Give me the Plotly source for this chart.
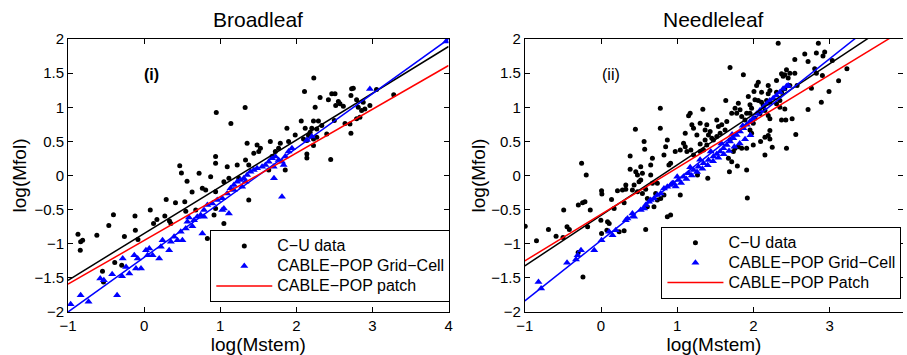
import plotly.graph_objects as go

# ---------------- Broadleaf data ----------------
bl_cu_x = [-0.869, -0.834, -0.808, -0.839, -0.621, -0.464, -0.403, -0.120, -0.115, -0.259,
           -0.081, 0.081, 0.168, 0.124, 0.290, 0.272, 0.333, 0.412, 0.468, 0.490,
           0.564, 0.534, 0.630, -0.547, -0.534, -0.386, -0.294, 0.547, 0.678, 0.351,
           0.948, 1.140, 1.327, 1.876, 1.985, 1.898, 1.789, 1.658, 1.767, 1.724,
           1.680, 1.484, 1.506, 1.441, 1.528, 1.353, 1.332, 1.375, 1.223, 1.092,
           0.939, 0.939, 0.874, 0.722, 0.765, 0.809, 0.939, 1.375, 1.637, 1.854,
           1.244, 1.114, 1.048, 0.939, 0.918, 0.831, 1.048,
           2.229, 2.107, 2.312, 2.247, 2.064, 2.116, 2.203, 2.225, 2.290, 2.268,
           2.160, 2.094, 2.138, 2.225, 2.268, 2.399, 2.225, 2.138, 2.138, 2.451,
           2.421, 2.465, 2.508, 2.552, 2.517, 2.573, 2.617, 2.499, 2.639, 2.704,
           2.717, 2.726, 2.748, 2.717, 2.791, 2.813, 2.857, 2.878, 2.900, 2.791,
           2.835, 2.966, 3.053, 3.279, 2.334, 2.181]
bl_cu_y = [-0.859, -0.972, -0.947, -1.094, -0.874, -0.732, -0.575, -0.595, -0.801, -0.894,
           -0.938, -0.507, -0.644, -0.703, -0.350, -0.595, -0.668, -0.399, 0.144, 0.036,
           -0.086, -0.385, -0.243, -1.403, -1.559, -1.275, -1.315, -0.522, -0.507, -0.703,
           0.923, 0.761, 0.996, 0.693, 0.595, 0.497, 0.472, 0.497, 0.399, 0.350,
           0.277, 0.448, 0.350, 0.326, 0.399, 0.472, 0.228, 0.154, 0.154, 0.130,
           0.179, 0.277, -0.017, 0.032, -0.188, -0.213, -0.237, -0.360, 0.081, 0.081,
           -0.042, -0.042, -0.702, -0.482, -0.580, -0.923, -0.090,
           1.427, 1.231, 1.143, 1.001, 0.800, 0.693, 0.693, 0.800, 0.800, 0.683,
           0.585, 0.536, 0.512, 0.536, 0.561, 0.609, 0.438, 0.316, 0.257, 0.233,
           1.109, 1.197, 1.197, 1.084, 1.026, 1.050, 1.016, 0.805, 0.761, 0.756,
           0.619, 1.270, 1.280, 1.172, 1.109, 1.001, 0.952, 1.074, 0.976, 0.830,
           0.854, 1.026, 1.260, 1.182, 0.732, 0.634]

bl_gc_x = [-0.965, -0.834, -0.730, -0.355, -0.577, -0.529, -0.420, -0.290, -0.281, -0.237,
           -0.194, -0.129, -0.085, -0.107, -0.041, 0.024, 0.068, 0.046, 0.111, 0.198,
           0.220, 0.242, 0.329, 0.351, 0.394, 0.438, 0.481, 0.503, 0.547, 0.569,
           0.590, 0.634, 0.656, 0.699,
           0.743, 0.787, 0.831, 0.896, 0.961, 1.027, 1.092, 1.136, 1.179, 1.223,
           1.266, 1.310, 1.353, 1.397, 1.441, 1.484, 1.550, 1.593, 1.637, 1.680,
           1.724, 1.767, 1.811, 1.702, 1.833, 1.854, 1.898, 1.942, 1.811, 0.787,
           1.048, 1.114, 0.765, 1.027, 1.179, 1.288, 1.332, 1.706, 2.138, 2.203,
           2.966, 3.967]
bl_gc_y = [-1.887, -1.755, -1.848, -1.755, -1.510, -1.535, -1.447, -1.476, -1.217, -1.339,
           -1.437, -1.168, -1.217, -1.363, -1.363, -1.094, -1.070, -1.168, -1.168, -1.217,
           -1.045, -0.947, -1.094, -0.972, -0.899, -0.947, -0.825, -0.947, -0.776, -0.678,
           -0.615, -0.742, -0.654, -0.605,
           -0.580, -0.507, -0.433, -0.409, -0.360, -0.335, -0.262, -0.188, -0.139, -0.090,
           -0.066, -0.042, 0.007, 0.056, 0.081, 0.105, 0.130, 0.154, 0.203, 0.252,
           0.277, 0.228, 0.203, 0.130, 0.154, 0.277, 0.350, 0.399, -0.311, -0.604,
           -0.482, -0.555, -0.849, -0.507, -0.213, -0.164, -0.090, -0.040, 0.521, 0.570,
           1.266, 1.965]

# fitted lines (end points)
bl_fit_x = [-1, 4]
bl_cu_fit_y = [-1.535, 1.890]
bl_gc_fit_y = [-2.000, 2.000]
bl_patch_fit_y = [-1.593, 1.612]

# ---------------- Needleleaf data ----------------
nl_cu_x = [-0.995, -0.847, -0.690, -0.590, -0.499, -0.490, -0.446, -0.416, -0.298, -0.242,
           -0.211, -0.255, -0.194, -0.141, -0.176, -0.237, 0.007, 0.011, -0.002, 0.085,
           0.107, 0.077, 0.007, 0.138, 0.172, 0.216, 0.281, 0.325, 0.325, 0.303,
           0.238, 0.303, 0.382, 0.382, 0.456, 0.478, 0.521, 0.543, 0.521, 0.499,
           0.434, 0.565, 0.573, 0.652, 0.674, 0.652, 0.674, 0.586, 0.608, 0.608,
           0.543, 0.739, 0.717, 0.695, 0.739, 0.826, 0.848, 0.870, 0.891, 0.913,
           0.826, 0.783, 0.913, 0.870, 0.586, 0.478, 0.412, -0.300, 0.778, 0.451,
           0.778,
           1.637, 1.336, 1.170, 1.149, 1.301, 1.192, 1.214, 1.388, 1.366, 1.432,
           1.519, 1.541, 1.584, 1.650, 1.628, 1.563, 1.519, 1.475, 1.410, 1.454,
           1.366, 1.301, 1.258, 1.105, 1.083, 1.040, 0.974, 1.179, 1.214, 1.127,
           1.105, 1.301, 1.345, 1.388, 1.693, 1.759, 1.802, 1.737, 1.672, 1.715,
           1.846, 1.911, 1.998, 1.955, 1.976, 1.998, 2.020, 1.802, 1.759, 1.715,
           1.780, 1.824, 1.846, 1.889, 1.911, 1.955, 1.933, 1.955, 1.976, 2.007,
           2.020, 1.911, 1.789, 1.685, 1.401, 1.266, 1.040, 1.920, 1.693, 1.868,
           2.325, 2.852, 2.674, 2.826, 2.935, 2.913, 2.717, 2.543, 3.035, 3.227,
           2.804, 2.826, 2.434, 2.369, 2.412, 2.478, 2.543, 2.456, 2.390, 2.905,
           3.118, 2.761, 2.992, 2.891, 2.717, 2.573, 2.478, 2.303, 2.194, 2.216,
           2.107, 2.064, 2.042, 2.194, 2.173, 2.064, 2.107, 2.129, 2.216, 2.303,
           2.412, 2.347, 2.369, 2.425, 2.508, 2.216, 2.194, 2.151, 2.085, 2.556,
           2.216, 2.194, 2.151, 2.216, 2.094, 2.247, 2.434, 2.151, 2.347, 2.369,
           2.412, 2.303]
nl_cu_y = [-0.742, -0.957, -0.791, -0.889, -0.908, -0.507, -0.752, -0.791, -0.433, -0.399,
           -0.385, 0.178, 0.007, -0.507, -0.752, -1.486, -0.223, -0.272, -0.654, -0.678,
           -0.703, -0.801, -0.850, -0.350, -0.482, -0.223, -0.213, -0.203, -0.140, -0.399,
           -0.825, -0.810, 0.286, 0.090, 0.056, 0.007, 0.129, 0.032, -0.066, -0.091,
           -0.140, 0.497, 0.384, 0.154, 0.252, 0.007, -0.115, -0.203, -0.336, -0.458,
           -0.262, -0.115, -0.262, -0.458, -0.360, 0.301, 0.423, 0.521, 0.154, 0.178,
           -0.287, -0.336, -0.580, -0.605, -0.791, -0.238, -0.213, -1.130, 0.987, 0.678,
           0.693,
           1.099, 0.972, 0.913, 0.874, 0.766, 0.742, 0.693, 0.742, 0.668, 0.644,
           0.815, 0.717, 0.742, 0.791, 0.668, 0.619, 0.570, 0.521, 0.595, 0.546,
           0.521, 0.463, 0.595, 0.619, 0.472, 0.374, 0.350, 0.374, 0.301, 0.350,
           0.423, 0.350, 0.374, 0.448, 0.521, 0.399, 0.423, 0.350, 0.252, 0.203,
           0.399, 0.399, 0.448, 0.668, 0.619, 0.766, 0.840, 1.060, 0.986, 0.913,
           0.913, 0.962, 0.864, 0.815, 0.913, 0.913, 1.158, 1.035, 0.986, 1.231,
           1.109, 0.081, 0.140, 0.056, -0.041, 0.007, -0.286, -0.330, 1.583, 1.476,
           1.936, 1.936, 1.779, 1.794, 1.809, 1.750, 1.672, 1.701, 1.686, 1.564,
           1.564, 1.500, 1.549, 1.490, 1.476, 1.500, 1.500, 1.427, 1.456, 1.466,
           1.388, 1.280, 1.231, 1.074, 0.967, 1.319, 1.319, 1.393, 1.319, 1.246,
           1.221, 1.368, 1.319, 1.197, 1.099, 1.099, 1.074, 1.026, 1.074, 1.050,
           0.976, 1.001, 0.815, 0.815, 0.830, 0.830, 0.879, 0.952, 0.903, 0.600,
           0.658, 0.585, 0.560, 0.536, 0.497, 0.414, 0.399, 0.301, 1.099, 1.221,
           1.270, 1.221]

nl_gc_x = [-0.821, -0.786, -0.446, -0.329, -0.307, -0.263, -0.089, 0.007, 0.107, 0.151,
           0.194, 0.325, 0.347, 0.434, 0.412, 0.521, 0.565, 0.586, 0.630, 0.652,
           0.695, 0.739, 0.783, 0.826, 0.870, 0.913, 0.935,
           0.953, 1.018, 1.083, 1.149, 1.214, 1.279, 1.345, 1.410, 1.475, 1.519,
           1.563, 1.606, 1.650, 1.693, 1.737, 1.780, 1.824, 1.868, 1.911, 1.955,
           1.998,
           0.980, 1.050, 1.120, 1.190, 1.260, 1.330, 1.400, 1.470, 1.540, 1.610,
           1.680, 1.750, 1.820, 1.890, 1.960,
           1.000, 1.170, 1.300, 1.440, 1.580, 1.720, 1.860,
           2.042, 2.085, 2.129, 2.173, 2.216, 2.260, 2.303, 2.347, 2.390, 2.434,
           2.456]
nl_gc_y = [-1.559, -1.657, -1.280, -1.231, -1.168, -1.094, -1.094, -0.947, -0.825, -0.874,
           -0.801, -0.654, -0.629, -0.605, -0.556, -0.507, -0.482, -0.433, -0.385, -0.360,
           -0.336, -0.287, -0.262, -0.189, -0.164, -0.140, -0.115,
           -0.115, -0.066, -0.017, 0.032, 0.081, 0.130, 0.179, 0.228, 0.277, 0.316,
           0.350, 0.399, 0.448, 0.497, 0.546, 0.595, 0.644, 0.693, 0.742, 0.791,
           0.840,
           -0.160, -0.110, -0.050, 0.000, 0.050, 0.100, 0.150, 0.210, 0.260, 0.310,
           0.360, 0.420, 0.470, 0.530, 0.590,
           -0.020, 0.120, 0.230, 0.350, 0.470, 0.600, 0.730,
           0.903, 0.952, 1.001, 1.050, 1.099, 1.133, 1.172, 1.221, 1.270, 1.309,
           1.319]

nl_fit_x = [-1, 4]
nl_cu_fit_y = [-1.324, 2.376]
nl_gc_fit_y = [-1.838, 2.597]
nl_patch_fit_y = [-1.251, 2.155]

titles = ["Broadleaf", "Needleleaf"]
panel_labels = ["(i)", "(ii)"]
legend_names = ["C\u2212U data", "CABLE\u2212POP Grid\u2212Cell"]
patch_names = ["CABLE\u2212POP patch", "CABLE\u2212POP Patch"]

FONT = "Liberation Sans, Arial, Helvetica, sans-serif"


def big(s):
    # legend text drawn at 16px while the legend rows keep a tighter spacing
    return '<span style="font-size:16px">' + s + '</span>'


fig = go.Figure()

panels = [
    (bl_cu_x, bl_cu_y, bl_gc_x, bl_gc_y, bl_fit_x, bl_cu_fit_y, bl_gc_fit_y, bl_patch_fit_y, "x", "y", "legend", patch_names[0]),
    (nl_cu_x, nl_cu_y, nl_gc_x, nl_gc_y, nl_fit_x, nl_cu_fit_y, nl_gc_fit_y, nl_patch_fit_y, "x2", "y2", "legend2", patch_names[1]),
]
for cx, cy, gx, gy, fx, fcy, fgy, fpy, xa, ya, lg, pname in panels:
    fig.add_trace(go.Scatter(x=cx, y=cy, mode="markers", name=big(legend_names[0]),
                             marker=dict(color="black", size=5, symbol="circle"),
                             xaxis=xa, yaxis=ya, legend=lg))
    fig.add_trace(go.Scatter(x=gx, y=gy, mode="markers", name=big(legend_names[1]),
                             marker=dict(color="blue", size=7, symbol="triangle-up"),
                             xaxis=xa, yaxis=ya, legend=lg))
    fig.add_trace(go.Scatter(x=fx, y=fcy, mode="lines", showlegend=False,
                             line=dict(color="black", width=1.5), xaxis=xa, yaxis=ya))
    fig.add_trace(go.Scatter(x=fx, y=fgy, mode="lines", showlegend=False,
                             line=dict(color="blue", width=1.5), xaxis=xa, yaxis=ya))
    fig.add_trace(go.Scatter(x=fx, y=fpy, mode="lines", name=big(pname),
                             line=dict(color="red", width=1.5), xaxis=xa, yaxis=ya, legend=lg))

axis_common = dict(showgrid=False, zeroline=False, showline=True, linecolor="black",
                   linewidth=1, ticks="inside", ticklen=5, tickwidth=1, tickcolor="black",
                   tickfont=dict(size=15, color="black", family=FONT),
                   title_font=dict(size=19, color="black", family=FONT))

legend_common = dict(xanchor="left", yanchor="top", bordercolor="black", borderwidth=1,
                     bgcolor="white", font=dict(size=13, color="black", family=FONT),
                     itemwidth=56, tracegroupgap=0)

fig.update_layout(
    width=907, height=355,
    margin=dict(l=68, r=0, t=39, b=43),
    paper_bgcolor="white", plot_bgcolor="white",
    font=dict(family=FONT, color="black"),
    xaxis=dict(domain=[0, 0.4558], range=[-1, 4], dtick=1, mirror="ticks",
               title=dict(text="log(Mstem)", standoff=6), anchor="y", **axis_common),
    yaxis=dict(range=[-2, 2], dtick=0.5, mirror="ticks",
               title=dict(text="log(Mfol)", standoff=2), anchor="x", **axis_common),
    xaxis2=dict(domain=[0.5471, 1], range=[-1, 3.963], dtick=1, mirror="ticks",
                title=dict(text="log(Mstem)", standoff=6), anchor="y2", **axis_common),
    yaxis2=dict(range=[-2, 2], dtick=0.5, mirror=False,
                title=dict(text="log(Mfol)", standoff=0), anchor="x2", **axis_common),
    # right-hand ticks of the clipped Needleleaf frame
    yaxis3=dict(range=[-2, 2], dtick=0.5, overlaying="y2", anchor="free", position=1.0,
                side="right", showline=False, showgrid=False, zeroline=False,
                ticks="inside", ticklen=5, tickwidth=1, tickcolor="black",
                showticklabels=False),
    legend=dict(x=0.1704, y=0.2999, **legend_common),
    legend2=dict(x=0.7107, y=0.312, **legend_common),
)

# invisible helper so the right-hand tick axis is rendered
fig.add_trace(go.Scatter(x=[None], y=[None], xaxis="x2", yaxis="y3", showlegend=False,
                         hoverinfo="skip"))

# subplot titles
title_x = [(0 + 0.4558) / 2, (0.5471 + 1.0) / 2]
for t, tx in zip(titles, title_x):
    fig.add_annotation(text=t, x=tx, y=1.0727, xref="paper", yref="paper", showarrow=False,
                       xanchor="center", yanchor="middle",
                       font=dict(size=21, color="black", family=FONT))

fig.add_annotation(text="<b>" + panel_labels[0] + "</b>", x=0.10, y=1.483, xref="x", yref="y",
                   showarrow=False, font=dict(size=16, color="black", family=FONT))
fig.add_annotation(text=panel_labels[1], x=0.133, y=1.483, xref="x2", yref="y2",
                   showarrow=False, font=dict(size=16, color="black", family=FONT))

fig.write_html("out.html")
